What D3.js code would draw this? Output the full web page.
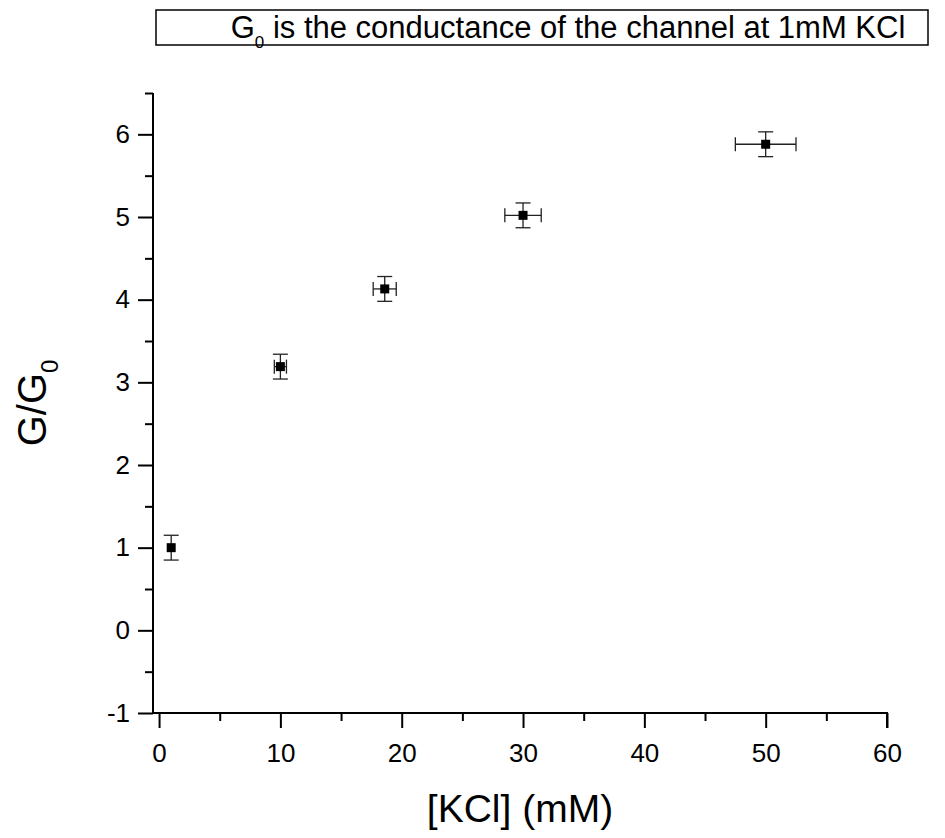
<!DOCTYPE html>
<html>
<head>
<meta charset="utf-8">
<script src="https://cdn.jsdelivr.net/npm/d3@7"></script>
<style>
  body { margin: 0; background: #fff; }
  text { font-family: "Liberation Sans", Arial, sans-serif; fill: #000; }
</style>
</head>
<body>
<div id="chart"></div>
<script>
// KCl concentration (mM) and normalised conductance G/G0
const kcl      = [1, 10, 18.6, 30, 50];
const kclErr   = [0, 0.5, 0.95, 1.5, 2.5];
const gRatio   = [1.0, 3.19, 4.13, 5.02, 5.88];
const gErr     = [0.15, 0.15, 0.15, 0.15, 0.15];
const xTicks   = [0, 10, 20, 30, 40, 50, 60];
const yTicks   = [-1, 0, 1, 2, 3, 4, 5, 6];

const width = 945, height = 838;

const svg = d3.select("#chart").append("svg")
    .attr("width", width)
    .attr("height", height);

const x = d3.scaleLinear().domain([-0.5, 60]).range([153, 887]);
const y = d3.scaleLinear().domain([-1, 6.5]).range([713, 93]);

// title box
svg.append("rect")
    .attr("x", 156).attr("y", 10)
    .attr("width", 772).attr("height", 35)
    .attr("fill", "none").attr("stroke", "#000").attr("stroke-width", 1.5);

const title = svg.append("text")
    .attr("x", 568).attr("y", 38)
    .attr("text-anchor", "middle")
    .style("font-size", "31px");
title.append("tspan").text("G");
title.append("tspan").attr("dy", 10).style("font-size", "17px").text("0");
title.append("tspan").attr("dy", -10).text(" is the conductance of the channel at 1mM KCl");

// minor ticks
svg.append("g")
    .attr("transform", `translate(0,${y(-1)})`)
    .call(d3.axisBottom(x).tickValues(d3.range(5, 60, 10)).tickSize(8).tickFormat("").tickSizeOuter(0))
    .call(g => g.select(".domain").remove())
    .selectAll("line").attr("stroke-width", 2);

svg.append("g")
    .attr("transform", `translate(${x(-0.5)},0)`)
    .call(d3.axisLeft(y).tickValues(d3.range(-0.5, 6.6, 1)).tickSize(8).tickFormat("").tickSizeOuter(0))
    .call(g => g.select(".domain").remove())
    .selectAll("line").attr("stroke-width", 2);

// major ticks + labels
const xAxis = svg.append("g")
    .attr("transform", `translate(0,${y(-1)})`)
    .call(d3.axisBottom(x).tickValues(xTicks).tickSize(15).tickPadding(16).tickFormat(d => String(d)).tickSizeOuter(0));
xAxis.select(".domain").remove();
xAxis.selectAll("line").attr("stroke-width", 2);
xAxis.selectAll("text").style("font-size", "26px").style("font-family", "Liberation Sans, Arial, sans-serif");

const yAxis = svg.append("g")
    .attr("transform", `translate(${x(-0.5)},0)`)
    .call(d3.axisLeft(y).tickValues(yTicks).tickSize(15).tickPadding(8).tickFormat(d => String(d)).tickSizeOuter(0));
yAxis.select(".domain").remove();
yAxis.selectAll("line").attr("stroke-width", 2);
yAxis.selectAll("text").style("font-size", "26px").style("font-family", "Liberation Sans, Arial, sans-serif");

// axis lines
svg.append("path")
    .attr("d", `M${x(-0.5)},${y(6.5)}V${y(-1)}H${x(60)}V${y(-1) + 15}`)
    .attr("fill", "none").attr("stroke", "#000").attr("stroke-width", 2);

// axis titles
svg.append("text")
    .attr("x", (x(-0.5) + x(60)) / 2).attr("y", 822)
    .attr("text-anchor", "middle")
    .style("font-size", "39px")
    .text("[KCl] (mM)");

const yTitle = svg.append("text")
    .attr("transform", `translate(46,${(y(-1) + y(6.5)) / 2}) rotate(-90)`)
    .attr("text-anchor", "middle")
    .style("font-size", "40px");
yTitle.append("tspan").text("G/G");
yTitle.append("tspan").attr("dy", 12).style("font-size", "24px").text("0");

// data
const pts = kcl.map((k, i) => ({ x: k, xe: kclErr[i], y: gRatio[i], ye: gErr[i] }));
const err = svg.append("g").attr("stroke", "#222").attr("stroke-width", 1.3).attr("fill", "none");
const capY = 7.5, capX = 7;

pts.forEach(d => {
    // vertical error bar
    err.append("line").attr("x1", x(d.x)).attr("x2", x(d.x))
        .attr("y1", y(d.y - d.ye)).attr("y2", y(d.y + d.ye));
    err.append("line").attr("x1", x(d.x) - capY).attr("x2", x(d.x) + capY)
        .attr("y1", y(d.y + d.ye)).attr("y2", y(d.y + d.ye));
    err.append("line").attr("x1", x(d.x) - capY).attr("x2", x(d.x) + capY)
        .attr("y1", y(d.y - d.ye)).attr("y2", y(d.y - d.ye));
    if (d.xe > 0) {
        err.append("line").attr("x1", x(d.x - d.xe)).attr("x2", x(d.x + d.xe))
            .attr("y1", y(d.y)).attr("y2", y(d.y));
        err.append("line").attr("x1", x(d.x - d.xe)).attr("x2", x(d.x - d.xe))
            .attr("y1", y(d.y) - capX).attr("y2", y(d.y) + capX);
        err.append("line").attr("x1", x(d.x + d.xe)).attr("x2", x(d.x + d.xe))
            .attr("y1", y(d.y) - capX).attr("y2", y(d.y) + capX);
    }
});

svg.selectAll(".pt")
    .data(pts)
    .enter().append("rect")
    .attr("class", "pt")
    .attr("x", d => x(d.x) - 4.5)
    .attr("y", d => y(d.y) - 4.5)
    .attr("width", 9).attr("height", 9)
    .attr("fill", "#000");
</script>
</body>
</html>
